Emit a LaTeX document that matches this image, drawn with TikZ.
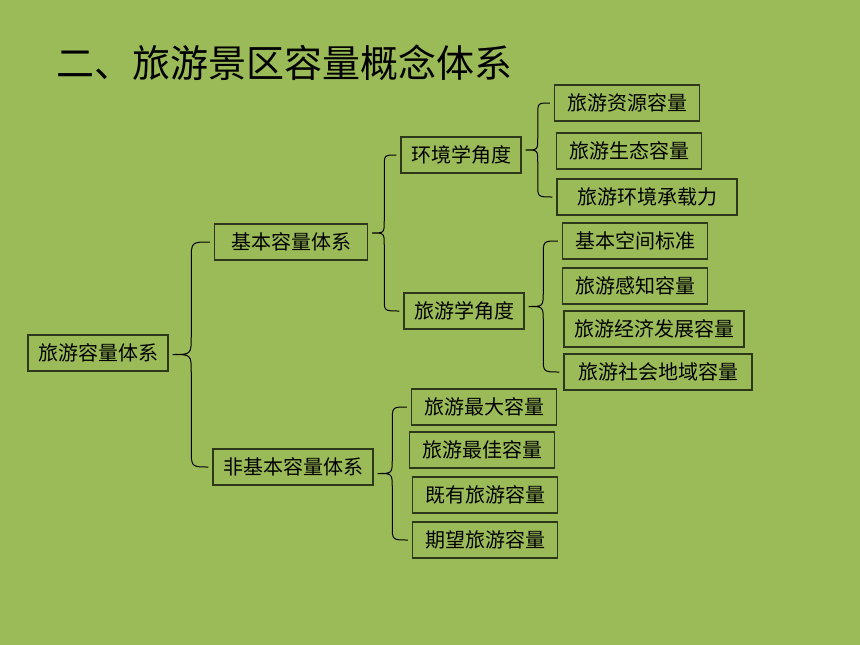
\documentclass[tikz,border=0pt]{standalone}
\usepackage{fontspec}
\usepackage{tikz}
\usetikzlibrary{calc,positioning}
\newfontfamily\cjk{Noto Sans CJK SC}
\definecolor{hintergrund}{RGB}{155,187,89}
\definecolor{rahmen}{RGB}{45,55,25}

\tikzset{
  kasten/.style={draw=rahmen,line width=1.1pt,inner xsep=10pt,minimum height=36pt,text=black,font=\cjk\fontsize{20pt}{24pt}\selectfont},
  blatt/.style={kasten,minimum width=145pt},
  titel/.style={inner sep=0pt,text=black,font=\cjk\fontsize{38pt}{44pt}\selectfont},
  klammer/.style={black,line width=1pt},
}

%Geschweifte Klammer: Spitze am Elternknoten, Enden am obersten und untersten Kind
\newcommand{\geschweift}[3]{%
  \draw[klammer] let \p1=($(#1.east)+(4pt,0)$), \p2=($(#2.west)+(-4pt,0)$), \p3=($(#3.west)+(-4pt,0)$),
    \n1={0.5*(\x1+\x2)}, \n2={0.5*(\y2+\y3)}, \n3={0.5*(\x2-\x1)} in
    (\p2) .. controls (\n1,\y2) .. (\n1,{\y2-\n3}) -- (\n1,{\n2+\n3})
    .. controls (\n1,\n2) .. (\x1,\n2) .. controls (\n1,\n2) .. (\n1,{\n2-\n3})
    -- (\n1,{\y3+\n3}) .. controls (\n1,\y3) .. (\p3);
}

\begin{document}
\begin{tikzpicture}[x=1pt,y=-1pt]
\fill[hintergrund] (0,0) rectangle (860,645);
\node[titel,anchor=west] (titel) at (56,63) {二、旅游景区容量概念体系};
%Ebene 1 und 2
\node[kasten] (wurzel) at (98,353) {旅游容量体系};
\node[kasten,minimum width=153pt] (basis) at (291,242) {基本容量体系};
\node[kasten] (nichtbasis) at (293,467) {非基本容量体系};
%Ebene 3
\node[kasten] (umwelt) at (461,155) {环境学角度};
\node[kasten] (tourismus) at (464,311) {旅游学角度};
%Blaetter
\node[blatt] (u1) at (627,103) {旅游资源容量};
\node[blatt] (u2) at (629,151) {旅游生态容量};
\node[blatt,minimum width=180pt] (u3) at (647,197) {旅游环境承载力};
\node[blatt] (t1) at (635,241) {基本空间标准};
\node[blatt] (t2) at (635,286) {旅游感知容量};
\node[blatt] (t3) at (654,329) {旅游经济发展容量};
\node[blatt,minimum width=188pt] (t4) at (658,372) {旅游社会地域容量};
\node[blatt] (n1) at (484,407) {旅游最大容量};
\node[blatt] (n2) at (482,450) {旅游最佳容量};
\node[blatt] (n3) at (485,495) {既有旅游容量};
\node[blatt] (n4) at (485,540) {期望旅游容量};
%Klammern
\geschweift{wurzel}{basis}{nichtbasis}
\geschweift{basis}{umwelt}{tourismus}
\geschweift{umwelt}{u1}{u3}
\geschweift{tourismus}{t1}{t4}
\geschweift{nichtbasis}{n1}{n4}
\end{tikzpicture}
\end{document}
